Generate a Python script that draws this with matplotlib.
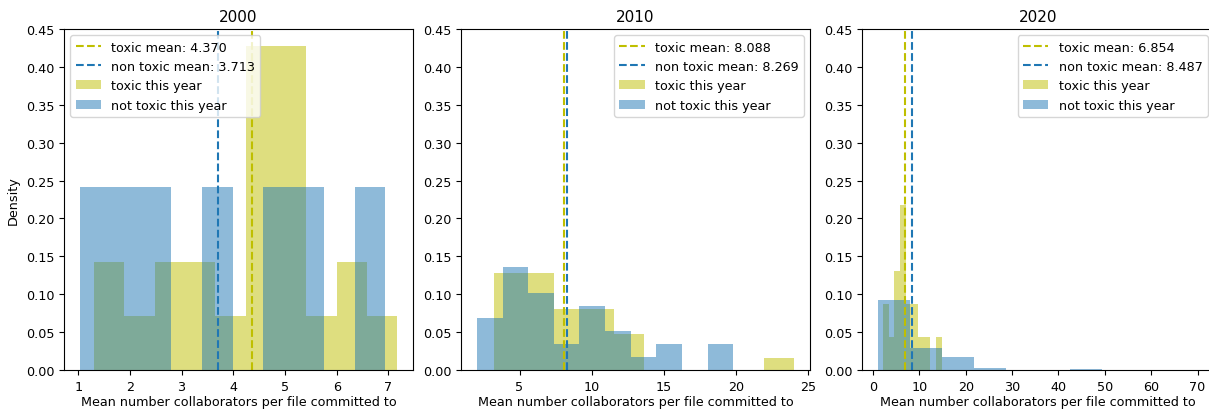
import matplotlib
matplotlib.use('Agg')
import matplotlib.pyplot as plt
import numpy as np

plt.rcParams['font.size'] = 9.2
plt.rcParams['axes.titlesize'] = 11

years = ['2000', '2010', '2020']

# bin edges and density heights
toxic_edges = [
    np.linspace(1.31, 7.17, 11),
    np.linspace(3.20, 24.05, 11),
    np.linspace(2.07, 14.82, 11),
]
toxic_dens = [
    [0.143, 0.071, 0.143, 0.143, 0.071, 0.427, 0.427, 0.071, 0.143, 0.071],
    [0.128, 0.128, 0.080, 0.080, 0.048, 0.0, 0.0, 0.0, 0.0, 0.016],
    [0.087, 0.044, 0.131, 0.218, 0.087, 0.087, 0.044, 0.044, 0.0, 0.044],
]
nontoxic_edges = [
    np.linspace(1.033, 6.94, 11),
    np.linspace(2.04, 19.84, 11),
    np.linspace(1.08, 70.1, 11),
]
nontoxic_dens = [
    [0.242, 0.242, 0.242, 0.0, 0.242, 0.0, 0.242, 0.242, 0.0, 0.242],
    [0.068, 0.136, 0.102, 0.034, 0.085, 0.051, 0.017, 0.034, 0.0, 0.034],
    [0.0922, 0.029, 0.0165, 0.0026, 0.0, 0.0, 0.0008, 0.0, 0.0, 0.0003],
]
toxic_mean = [4.370, 8.088, 6.854]
nontoxic_mean = [3.713, 8.269, 8.487]
legend_loc = ['upper left', 'upper right', 'upper right']

fig = plt.figure(figsize=(12.09, 4.10), dpi=100)
lefts = [64, 461, 862]
widths = [349, 349, 352]

for i, year in enumerate(years):
    ax = fig.add_axes([lefts[i] / 1209, 39 / 410, widths[i] / 1209, 341 / 410])
    te = toxic_edges[i]
    ne = nontoxic_edges[i]
    ax.axvline(toxic_mean[i], color='y', linestyle='--',
               label=f'toxic mean: {toxic_mean[i]:.3f}')
    ax.axvline(nontoxic_mean[i], color='tab:blue', linestyle='--',
               label=f'non toxic mean: {nontoxic_mean[i]:.3f}')
    ax.hist(te[:-1], bins=te, weights=toxic_dens[i], color='y', alpha=0.5,
            label='toxic this year')
    ax.hist(ne[:-1], bins=ne, weights=nontoxic_dens[i], color='tab:blue',
            alpha=0.5, label='not toxic this year')
    ax.set_ylim(0, 0.45)
    ax.set_title(year)
    ax.set_xlabel('Mean number collaborators per file committed to', labelpad=1.5)
    if i == 0:
        ax.set_ylabel('Density')
    ax.legend(loc=legend_loc[i])

plt.savefig('out.png', dpi=100)
